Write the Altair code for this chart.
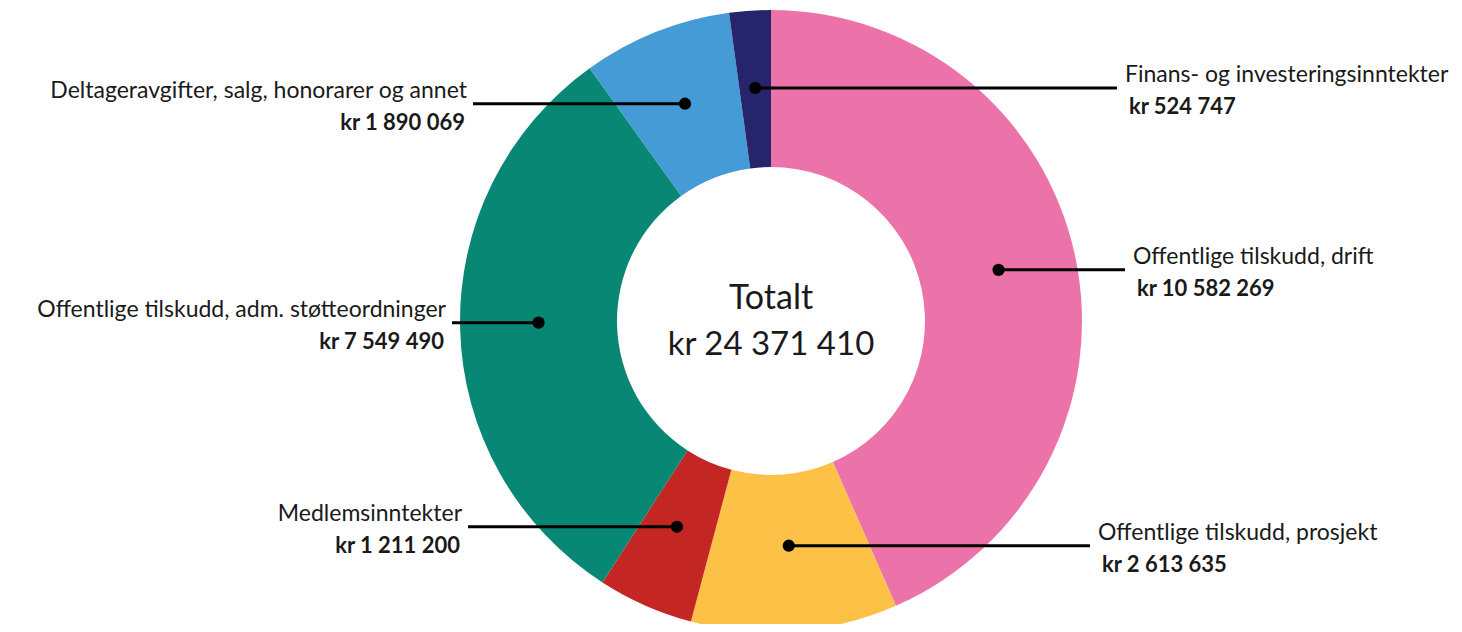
import altair as alt
import pandas as pd

# ---- data ----
labels = [
    "Offentlige tilskudd, drift",
    "Offentlige tilskudd, prosjekt",
    "Medlemsinntekter",
    "Offentlige tilskudd, adm. støtteordninger",
    "Deltageravgifter, salg, honorarer og annet",
    "Finans- og investeringsinntekter",
]
values = [10582269, 2613635, 1211200, 7549490, 1890069, 524747]
colors = ["#EB73AA", "#FCC146", "#C42624", "#088775", "#449BD6", "#26256C"]

# ---- layout (chart pixel coordinates) ----
W, H = 1446, 616
CX, CY = 763, 313
R_IN, R_OUT = 154, 311
R_MID = (R_IN + R_OUT) / 2
line_end_x = [1117, 1082, 460, 444, 465, 1109]
side = ["right", "right", "left", "left", "left", "right"]
FONT = "Lato"


def kr(v):
    return "kr " + f"{v:,}".replace(",", " ")


df = pd.DataFrame({
    "idx": list(range(len(labels))),
    "label": labels,
    "value": values,
    "vtext": [kr(v) for v in values],
    "lx": line_end_x,
    "side": side,
})

xs = alt.Scale(domain=[0, W], nice=False, zero=False)
ys = alt.Scale(domain=[H, 0], nice=False, zero=False)

arc = alt.Chart(df).mark_arc(innerRadius=R_IN, outerRadius=R_OUT).encode(
    theta=alt.Theta("value:Q", stack=True),
    order=alt.Order("idx:Q"),
    color=alt.Color("label:N", scale=alt.Scale(domain=labels, range=colors), legend=None),
    x=alt.value(CX),
    y=alt.value(CY),
)

base = (
    alt.Chart(df)
    .transform_joinaggregate(total="sum(value)")
    .transform_window(cum="sum(value)", sort=[alt.SortField("idx")], frame=[None, 0])
    .transform_calculate(ang="2*PI*(datum.cum - datum.value/2)/datum.total")
    .transform_calculate(px=f"{CX} + {R_MID}*sin(datum.ang)")
    .transform_calculate(py=f"{CY} - {R_MID}*cos(datum.ang)")
)

rules = base.mark_rule(strokeWidth=3, color="black").encode(
    x=alt.X("px:Q", scale=xs, axis=None),
    x2="lx:Q",
    y=alt.Y("py:Q", scale=ys, axis=None),
)
dots = base.mark_point(filled=True, size=150, color="black", opacity=1).encode(
    x=alt.X("px:Q", scale=xs, axis=None),
    y=alt.Y("py:Q", scale=ys, axis=None),
)

right = base.transform_filter("datum.side == 'right'")
left = base.transform_filter("datum.side == 'left'")
pos = dict(x=alt.X("lx:Q", scale=xs, axis=None), y=alt.Y("py:Q", scale=ys, axis=None))
lab = dict(font=FONT, fontSize=23, color="#1a1a1a", baseline="middle")
val = dict(font=FONT, fontSize=22, color="#1a1a1a", baseline="middle", fontWeight="bold")

r_lab = right.mark_text(align="left", dx=8, dy=-13, **lab).encode(text="label:N", **pos)
r_val = right.mark_text(align="left", dx=12, dy=19, **val).encode(text="vtext:N", **pos)
l_lab = left.mark_text(align="right", dx=-6, dy=-13, **lab).encode(text="label:N", **pos)
l_val = left.mark_text(align="right", dx=-8, dy=19, **val).encode(text="vtext:N", **pos)

total = sum(values)
center_df = pd.DataFrame({"t": ["Totalt", kr(total)], "row": [0, 1]})
c1 = alt.Chart(center_df).transform_filter("datum.row == 0").mark_text(
    font=FONT, fontSize=34, color="#1a1a1a", baseline="middle", align="center"
).encode(text="t:N", x=alt.value(CX), y=alt.value(CY - 22))
c2 = alt.Chart(center_df).transform_filter("datum.row == 1").mark_text(
    font=FONT, fontSize=33, color="#1a1a1a", baseline="middle", align="center"
).encode(text="t:N", x=alt.value(CX), y=alt.value(CY + 24))

chart = (
    alt.layer(arc, rules, dots, r_lab, r_val, l_lab, l_val, c1, c2)
    .properties(width=W, height=H, padding=0,
                autosize=alt.AutoSizeParams(type="fit", contains="padding"),
                background="white")
    .configure_view(stroke=None)
)

chart.save("out.html", embed_options={"renderer": "svg", "actions": False})
